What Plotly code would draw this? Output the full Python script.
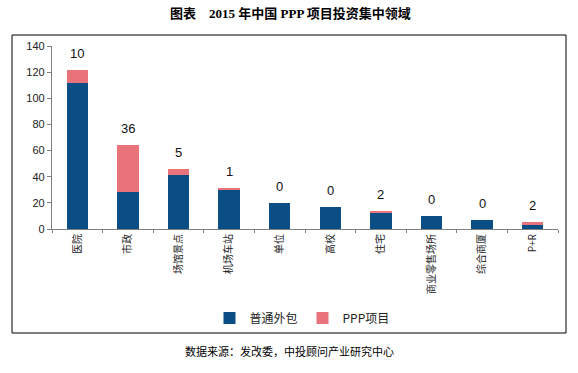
import plotly.graph_objects as go

categories = ["医院", "市政", "场馆景点", "机场车站", "单位", "高校", "住宅", "商业零售场所", "综合商厦", "P+R"]
outsourcing = [112, 28.5, 41, 30, 20, 17, 12, 10, 7, 3]
ppp = [10, 36, 5, 1, 0, 0, 2, 0, 0, 2]
y_ticks = [0, 20, 40, 60, 80, 100, 120, 140]

BLUE = "#0b4e86"
PINK = "#e8737a"
AXIS = "#808080"

fig = go.Figure()
fig.add_trace(go.Bar(x=categories, y=outsourcing, name="普通外包", marker=dict(color=BLUE, line=dict(width=0))))
fig.add_trace(go.Bar(x=categories, y=ppp, name="PPP项目", marker=dict(color=PINK, line=dict(width=0))))

for c, b, p in zip(categories, outsourcing, ppp):
    fig.add_annotation(x=c, y=b + p, text=str(p), showarrow=False, yanchor="bottom", yshift=7,
                       font=dict(family="Arial, Liberation Sans", size=13, color="#111"))

L, R, T, B = 52, 558, 46, 229
W, H = R - L, B - T

def px(x):
    return (x - L) / W

def py(y):
    return (B - y) / H

fig.add_shape(type="rect", xref="paper", yref="paper", x0=px(12), x1=px(566), y0=py(333), y1=py(35),
              line=dict(color="black", width=1), fillcolor="rgba(0,0,0,0)", layer="below")

fig.add_annotation(xref="paper", yref="paper", x=px(290), y=py(13), text="<b>图表　2015 年中国 PPP 项目投资集中领域</b>",
                   showarrow=False, xanchor="center", yanchor="middle",
                   font=dict(family="Liberation Serif, Noto Sans CJK SC", size=13, color="black"))
fig.add_annotation(xref="paper", yref="paper", x=px(289), y=py(351), text="数据来源：发改委，中投顾问产业研究中心",
                   showarrow=False, xanchor="center", yanchor="middle",
                   font=dict(family="Noto Sans CJK SC", size=11, color="black"))

fig.update_layout(
    width=578, height=373,
    margin=dict(l=L, r=578 - R, t=T, b=373 - B),
    barmode="stack", bargap=0.58,
    plot_bgcolor="white", paper_bgcolor="white",
    showlegend=True,
    legend=dict(orientation="h", x=px(302), y=py(318), xanchor="center", yanchor="middle",
                font=dict(family="Noto Sans CJK SC", size=12, color="#222"),
                itemwidth=30, traceorder="normal", bgcolor="rgba(0,0,0,0)"),
    xaxis=dict(showline=True, linecolor=AXIS, linewidth=1.2, ticks="outside", ticklen=3, tickcolor=AXIS,
               tickson="boundaries", tickangle=-90, showgrid=False, automargin=False,
               tickfont=dict(family="Noto Sans CJK SC", size=10, color="#222")),
    yaxis=dict(range=[0, 140], tickvals=y_ticks, showline=True, linecolor=AXIS, linewidth=1.2,
               ticks="outside", ticklen=4, tickcolor=AXIS, showgrid=False, zeroline=False, automargin=False,
               tickfont=dict(family="Arial, Liberation Sans", size=11, color="#222")),
)

fig.write_html("out.html", config={"displayModeBar": False},
               post_script="document.body.style.margin='0px';document.body.style.overflow='hidden';")
